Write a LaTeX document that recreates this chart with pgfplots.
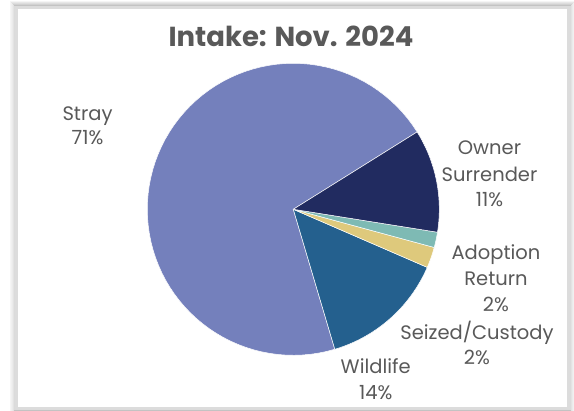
\documentclass[border=0pt]{standalone}
\usepackage{pgfplots}
\pgfplotsset{compat=1.18}
\usepackage{fontspec}
\setmainfont{Poppins}

\definecolor{cStray}{HTML}{7480BC}
\definecolor{cOwner}{HTML}{212B60}
\definecolor{cAdopt}{HTML}{7EBAB4}
\definecolor{cSeized}{HTML}{DEC97C}
\definecolor{cWild}{HTML}{24608E}
\definecolor{txt}{HTML}{595959}
\definecolor{framegray}{HTML}{DCDCDC}

% pie geometry (axis units = px of the 574x411 picture)
\def\cx{293.3}
\def\cy{201.7}
\def\R{146}
\def\startang{32}

% one wedge: percentage, colour
\newcommand{\slice}[2]{%
  \pgfmathsetmacro{\endang}{\startang+3.6*#1}%
  \edef\temp{\noexpand\addplot[fill=#2, draw=white, line width=0.5pt,
    domain=\startang:\endang, samples=80]
    ({\cx+\R*cos(x)},{\cy+\R*sin(x)}) -- (axis cs:\cx,\cy) -- cycle;}%
  \temp
  \global\let\startang\endang
}
\newcommand{\lbl}[3]{\node[anchor=base, text=txt, font=\fontsize{19.5}{24}\selectfont] at (axis cs:#1,#2) {#3};}
\newcommand{\shadowbox}[2]{\draw[black, opacity=#2, line width=1.2pt]
    (axis cs:16.5-#1,3-#1) rectangle (axis cs:568.5+#1,403+#1);}

\begin{document}
\begin{tikzpicture}
\begin{axis}[
    scale only axis,
    width=574pt, height=411pt,
    xmin=0, xmax=574, ymin=0, ymax=411,
    hide axis, clip=false
]
% frame with soft shadow
\shadowbox{6}{0.04}
\shadowbox{5}{0.06}
\shadowbox{4}{0.08}
\shadowbox{3}{0.11}
\shadowbox{2}{0.14}
\draw[framegray, line width=2.5pt, fill=white] (axis cs:16.5,3) rectangle (axis cs:568.5,403);

% slices counter-clockwise from the Stray/Owner edge
\slice{70.7}{cStray}
\slice{13.9}{cWild}
\slice{2.3}{cSeized}
\slice{1.7}{cAdopt}
\slice{11.4}{cOwner}

\node[anchor=base, text=txt, font=\fontsize{27.5}{32}\selectfont\bfseries] at (axis cs:291,364.5) {Intake: Nov. 2024};

\lbl{87.5}{290}{Stray}
\lbl{87.5}{266}{71\%}
\lbl{489.5}{256}{Owner}
\lbl{489.5}{229.5}{Surrender}
\lbl{489.5}{204.3}{11\%}
\lbl{496}{151}{Adoption}
\lbl{496}{125}{Return}
\lbl{496}{99.3}{2\%}
\lbl{477}{71}{Seized/Custody}
\lbl{477}{46}{2\%}
\lbl{375.7}{37.7}{Wildlife}
\lbl{375.7}{11.7}{14\%}
\end{axis}
\pgfresetboundingbox
\path (0,0) rectangle (574pt,411pt);
\end{tikzpicture}
\end{document}
